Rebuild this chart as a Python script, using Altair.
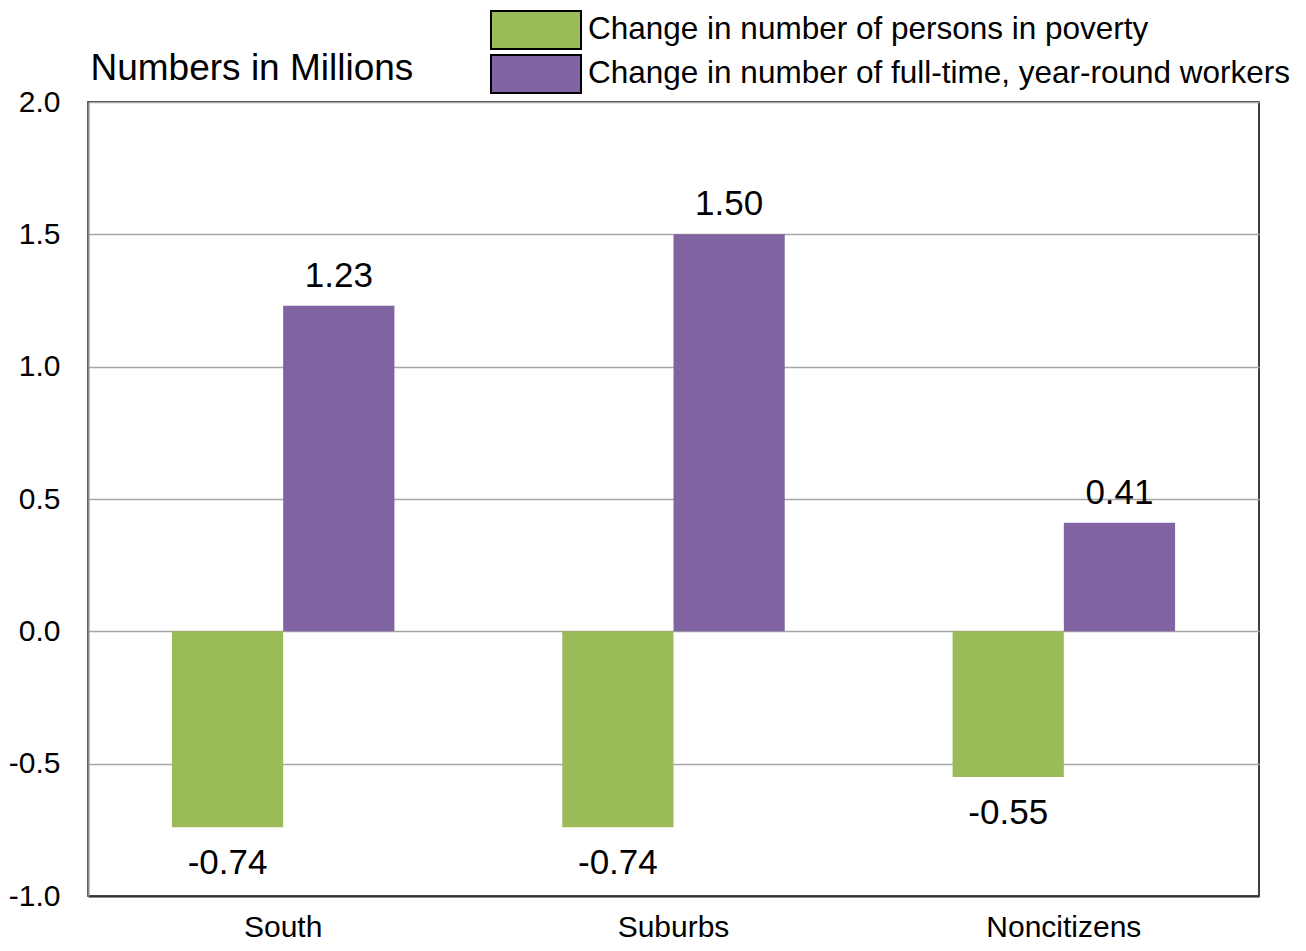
import altair as alt
import pandas as pd

categories = ["South", "Suburbs", "Noncitizens"]
series_names = ["Change in number of persons in poverty",
                "Change in number of full-time, year-round workers"]
poverty_change = [-0.74, -0.74, -0.55]
worker_change = [1.23, 1.50, 0.41]
colors = ["#9BBB59", "#8064A2"]

rows = []
for i, c in enumerate(categories):
    rows.append({"category": c, "series": series_names[0], "value": poverty_change[i]})
    rows.append({"category": c, "series": series_names[1], "value": worker_change[i]})
df = pd.DataFrame(rows)

FONT = "Liberation Sans, Arial, sans-serif"

x = alt.X("category:N", sort=categories, title=None,
          scale=alt.Scale(paddingInner=0.43, paddingOuter=0.215),
          axis=alt.Axis(labelAngle=0, labelFontSize=30, labelColor="black", labelFont=FONT,
                        ticks=False, labelPadding=16, domainColor="#333333", domainWidth=2))
y = alt.Y("value:Q", title="Numbers in Millions",
          scale=alt.Scale(domain=[-1, 2], nice=False),
          axis=alt.Axis(values=[-1, -0.5, 0, 0.5, 1, 1.5, 2],
                        labelExpr="replace(format(datum.value, '.1f'), '\u2212', '-')",
                        labelFontSize=30, labelColor="black", labelFont=FONT,
                        ticks=False, labelPadding=28, domainColor="#888888", domainWidth=2,
                        gridColor="#A6A6A6", gridWidth=1.5,
                        titleAngle=0, titleAlign="left", titleBaseline="alphabetic",
                        titleX=2, titleY=-23, titleFontSize=37, titleFontWeight="normal",
                        titleFont=FONT, titleColor="black"))
color = alt.Color("series:N", sort=series_names,
                  scale=alt.Scale(domain=series_names, range=colors),
                  legend=alt.Legend(title=None, orient="none", legendX=428, legendY=-92,
                                    symbolType="M-2.37,-1H2.37V1H-2.37Z", symbolSize=1444,
                                    symbolStrokeColor="black", symbolStrokeWidth=2,
                                    rowPadding=-2, labelOffset=32,
                                    labelFontSize=31.5, labelFont=FONT, labelColor="black",
                                    labelLimit=1000, symbolOpacity=1))

bars = alt.Chart(df).mark_bar(opacity=1).encode(
    x=x, y=y, color=color,
    xOffset=alt.XOffset("series:N", sort=series_names, scale=alt.Scale(paddingInner=0, paddingOuter=0)),
)

base_text = alt.Chart(df).transform_calculate(
    label="replace(format(datum.value, '.2f'), '\u2212', '-')"
)
pos_text = base_text.transform_filter("datum.value >= 0").mark_text(
    baseline="alphabetic", dy=-19, fontSize=35, font=FONT, color="black"
).encode(
    x=alt.X("category:N", sort=categories),
    xOffset=alt.XOffset("series:N", sort=series_names),
    y="value:Q",
    text="label:N",
)
neg_text = base_text.transform_filter("datum.value < 0").mark_text(
    baseline="alphabetic", dy=47, fontSize=35, font=FONT, color="black"
).encode(
    x=alt.X("category:N", sort=categories),
    xOffset=alt.XOffset("series:N", sort=series_names),
    y="value:Q",
    text="label:N",
)

chart = alt.layer(bars, pos_text, neg_text).properties(
    width=1171, height=794,
    background="white",
    autosize=alt.AutoSizeParams(type="none"),
    padding={"left": 80, "top": 94, "right": 38, "bottom": 47},
).configure_view(stroke="black", strokeWidth=1.5)

chart.save("out.html", embed_options={"renderer": "svg", "actions": False})
